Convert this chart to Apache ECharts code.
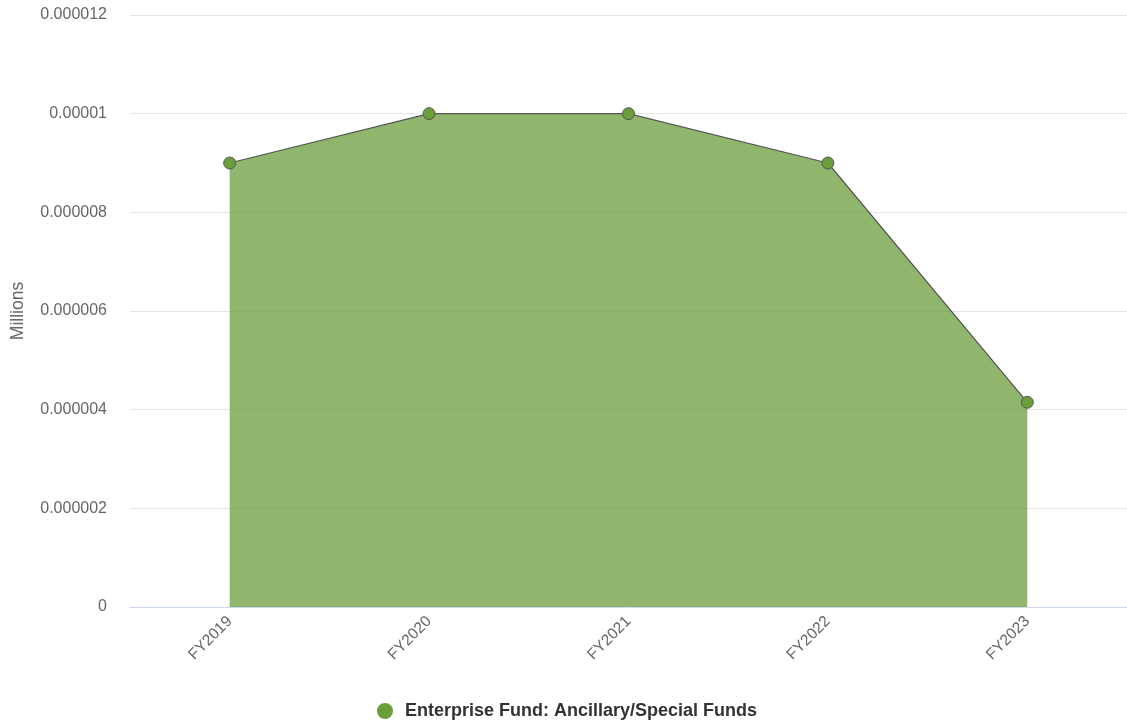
<!DOCTYPE html>
<html lang="en">
<head>
	<meta charset="UTF-8">
	<title>Enterprise Fund</title>
	<script src="https://cdn.jsdelivr.net/npm/echarts@6/dist/echarts.min.js"></script>
	<style>
		body { margin: 0; }
	</style>
</head>
<body>
	<div id="main" style="width:1127px; height:725px"></div>
	<script>
		// data
		var categories = ["FY2019", "FY2020", "FY2021", "FY2022", "FY2023"];
		var fundValues = [0.000009, 0.00001, 0.00001, 0.000009, 0.00000415];
		var seriesName = "Enterprise Fund: Ancillary/Special Funds";

		var myChart = echarts.init(document.getElementById("main"));
		myChart.setOption({
			textStyle: { fontFamily: "Liberation Sans, Arial, sans-serif" },
			animation: false,
			grid: { left: 130, top: 15, right: 0, bottom: 118 },
			legend: {
				bottom: 0,
				left: 372,
				data: [{ name: seriesName, icon: "circle", itemStyle: { borderWidth: 0 } }],
				itemWidth: 16, itemHeight: 16,
				textStyle: { fontSize: 18, fontWeight: "bold", color: "#333", padding: [0, 0, 0, 7] }
			},
			xAxis: {
				type: "category",
				data: categories,
				boundaryGap: true,
				axisLine: { lineStyle: { color: "#ccd6eb" } },
				axisTick: { show: false },
				axisLabel: { rotate: 45, color: "#666", fontSize: 15.5, margin: 12 }
			},
			yAxis: {
				type: "value",
				min: 0, max: 0.000012, interval: 0.000002,
				name: "Millions",
				nameLocation: "middle",
				nameGap: 103,
				nameTextStyle: { color: "#666", fontSize: 17.5 },
				splitLine: { lineStyle: { color: "#e6e6e6" } },
				axisLabel: {
					color: "#666", fontSize: 16, margin: 23,
					formatter: function (v) { return v === 0 ? "0" : String(parseFloat(v.toFixed(6))); }
				}
			},
			series: [{
				name: seriesName,
				type: "line",
				data: fundValues,
				symbol: "circle",
				symbolSize: 12,
				itemStyle: { color: "#6a9e3b", borderColor: "#555", borderWidth: 1 },
				lineStyle: { color: "#555", width: 1.2 },
				areaStyle: { color: "#6a9e3b", opacity: 0.75 }
			}]
		});
	</script>
</body>
</html>
